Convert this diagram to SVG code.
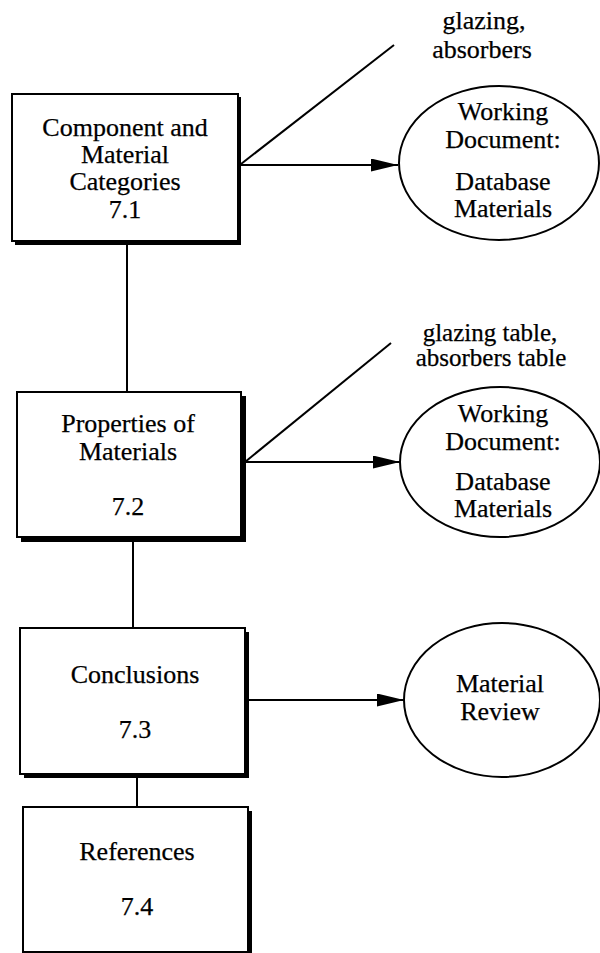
<svg xmlns="http://www.w3.org/2000/svg" width="600" height="953" viewBox="0 0 600 953">
  <style>
    .box { fill: #fff; stroke: #000; stroke-width: 2; }
    .shadow { fill: #000; }
    .doc { fill: #fff; stroke: #000; stroke-width: 2; }
    .wire { fill: none; stroke: #000; stroke-width: 2; }
    text { font-family: "Liberation Serif", "Times New Roman", serif; font-size: 26px; fill: #000; text-anchor: middle; stroke: #000; stroke-width: 0.25; }
    .tight { font-size: 25px; }
  </style>
  <defs>
    <marker id="arrow" markerUnits="userSpaceOnUse" markerWidth="28" markerHeight="14" refX="27" refY="6.5" orient="auto">
      <path d="M0,0 L27,6.5 L0,13 Z" fill="#000"/>
    </marker>
  </defs>
  <rect width="600" height="953" fill="#fff"/>

  <!-- connectors -->
  <g id="connectors">
    <line class="wire" x1="127" y1="241" x2="127" y2="392"/>
    <line class="wire" x1="133" y1="537" x2="133" y2="628"/>
    <line class="wire" x1="137" y1="775" x2="137" y2="807"/>
    <line class="wire" x1="241" y1="164" x2="394" y2="45"/>
    <line class="wire" x1="241" y1="165" x2="398" y2="165" marker-end="url(#arrow)"/>
    <line class="wire" x1="245" y1="462" x2="391" y2="343"/>
    <line class="wire" x1="245" y1="462" x2="400" y2="462" marker-end="url(#arrow)"/>
    <line class="wire" x1="248" y1="700" x2="404" y2="700" marker-end="url(#arrow)"/>
  </g>

  <!-- 7.1 -->
  <g id="node-7-1">
    <rect class="shadow" x="15" y="97" width="226" height="148"/>
    <rect class="box" x="12" y="94" width="226" height="147"/>
    <text x="125" y="136">Component and</text>
    <text x="125" y="163">Material</text>
    <text x="125" y="190">Categories</text>
    <text x="125" y="218">7.1</text>
  </g>

  <!-- 7.2 -->
  <g id="node-7-2">
    <rect class="shadow" x="21" y="396" width="225" height="146"/>
    <rect class="box" x="17" y="392" width="224" height="145"/>
    <text x="128" y="432">Properties of</text>
    <text x="128" y="460">Materials</text>
    <text x="128" y="515">7.2</text>
  </g>

  <!-- 7.3 -->
  <g id="node-7-3">
    <rect class="shadow" x="24" y="632" width="225" height="146"/>
    <rect class="box" x="20" y="628" width="225" height="146"/>
    <text x="135" y="683">Conclusions</text>
    <text x="135" y="738">7.3</text>
  </g>

  <!-- 7.4 -->
  <g id="node-7-4">
    <rect class="shadow" x="27" y="811" width="225" height="145"/>
    <rect class="box" x="23" y="807" width="225" height="145"/>
    <text x="137" y="860">References</text>
    <text x="137" y="915">7.4</text>
  </g>

  <!-- working document for 7.1 -->
  <g id="doc-1">
    <ellipse class="doc" cx="499" cy="163" rx="100" ry="77"/>
    <text x="503" y="120">Working</text>
    <text x="503" y="148">Document:</text>
    <text x="503" y="190">Database</text>
    <text x="503" y="217">Materials</text>
  </g>

  <!-- working document for 7.2 -->
  <g id="doc-2">
    <ellipse class="doc" cx="500" cy="462" rx="100" ry="75"/>
    <text x="503" y="422">Working</text>
    <text x="503" y="450">Document:</text>
    <text x="503" y="490">Database</text>
    <text x="503" y="517">Materials</text>
  </g>

  <!-- review for 7.3 -->
  <g id="doc-3">
    <ellipse class="doc" cx="502" cy="700" rx="98" ry="77"/>
    <text x="500" y="692">Material</text>
    <text x="500" y="720">Review</text>
  </g>

  <!-- branch labels -->
  <g id="label-1">
    <text x="484" y="29">glazing,</text>
    <text x="482" y="58">absorbers</text>
  </g>
  <g id="label-2">
    <text class="tight" x="490" y="341">glazing table,</text>
    <text class="tight" x="491" y="366">absorbers table</text>
  </g>
</svg>
